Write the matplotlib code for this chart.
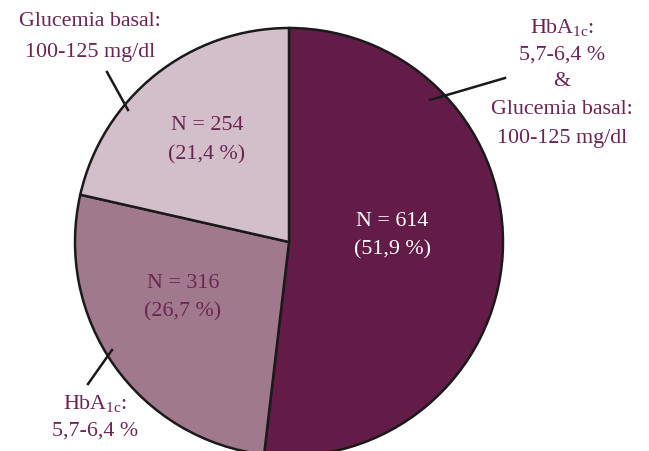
import matplotlib
matplotlib.use("Agg")
import matplotlib.pyplot as plt

plt.rcParams['font.family'] = ['Liberation Serif', 'DejaVu Serif']
plt.rcParams['mathtext.fontset'] = 'custom'
plt.rcParams['mathtext.rm'] = 'Liberation Serif'
plt.rcParams['mathtext.it'] = 'Liberation Serif:italic'

categories = ["HbA1c & Glucemia basal", "HbA1c", "Glucemia basal"]
counts = [614, 316, 254]
percents = ["51,9", "26,7", "21,4"]
colors = ["#631c47", "#a07a8c", "#d3bfc9"]
text_color = "#6b2453"

W, H = 649, 451
fig = plt.figure(figsize=(W / 100, H / 100), dpi=100)
ax = fig.add_axes([0, 0, 1, 1])

def py(y):
    return H - y

cx, cy, r = 289, 242, 214
wedges, _ = ax.pie(counts, colors=colors, startangle=90, counterclock=False,
                   center=(cx, py(cy)), radius=r, frame=True,
                   wedgeprops=dict(edgecolor="#1a1a1a", linewidth=1.8))
ax.set_xlim(0, W)
ax.set_ylim(0, H)
ax.set_aspect('equal')
ax.axis('off')

fs = 15.8
# inner labels
inner_pos = [(392, 221, 250), (183, 283, 312), (207, 126, 155)]
for (x, y1, y2), n, p, i in zip(inner_pos, counts, percents, range(3)):
    c = "white" if i == 0 else text_color
    ax.text(x, py(y1), f"N = {n}", ha='center', va='center', fontsize=fs, color=c)
    ax.text(x, py(y2), f"({p} %)", ha='center', va='center', fontsize=fs, color=c)

# leader lines
lines = [((430, 100), (505, 78)), ((128, 110), (107, 72)), ((112, 350), (88, 384))]
for (x1, y1), (x2, y2) in lines:
    ax.plot([x1, x2], [py(y1), py(y2)], color="#1a1a1a", lw=1.8)

hba = r"HbA$_{\mathrm{1c}}$:"
# outer labels
ax.text(90, py(22), "Glucemia basal:", ha='center', va='center', fontsize=fs, color=text_color)
ax.text(90, py(52), "100-125 mg/dl", ha='center', va='center', fontsize=fs, color=text_color)

ax.text(562, py(28), hba, ha='center', va='center', fontsize=fs, color=text_color)
ax.text(562, py(55), "5,7-6,4 %", ha='center', va='center', fontsize=fs, color=text_color)
ax.text(562, py(82), "&", ha='center', va='center', fontsize=fs, color=text_color)
ax.text(562, py(110), "Glucemia basal:", ha='center', va='center', fontsize=fs, color=text_color)
ax.text(562, py(138), "100-125 mg/dl", ha='center', va='center', fontsize=fs, color=text_color)

ax.text(95, py(403), hba, ha='center', va='center', fontsize=fs, color=text_color)
ax.text(95, py(431), "5,7-6,4 %", ha='center', va='center', fontsize=fs, color=text_color)

fig.savefig("out.png", dpi=100)
